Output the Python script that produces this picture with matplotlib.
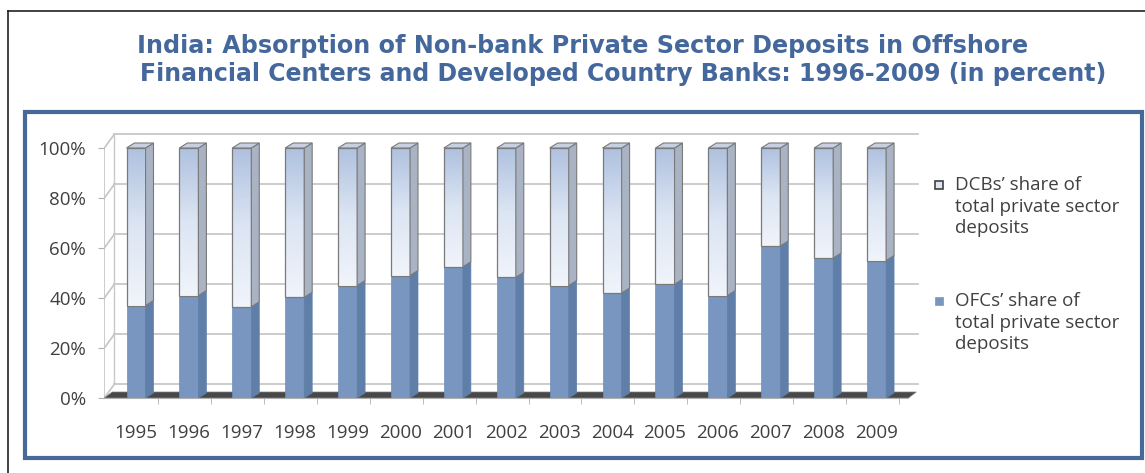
import matplotlib.pyplot as plt
import numpy as np
from matplotlib.patches import Polygon, Rectangle
from matplotlib.lines import Line2D
from matplotlib.colors import LinearSegmentedColormap

years = ['1995', '1996', '1997', '1998', '1999', '2000', '2001', '2002',
         '2003', '2004', '2005', '2006', '2007', '2008', '2009']
# OFCs' share (bottom, dark blue) and DCBs' share (top, light) in percent
ofc_share = [37, 41, 36.5, 40.3, 45, 49, 52.5, 48.3, 45, 42, 45.5, 41, 60.8, 56, 55]
dcb_share = [63, 59, 63.5, 59.7, 55, 51, 47.5, 51.7, 55, 58, 54.5, 59, 39.2, 44, 45]
y_ticks = [0, 20, 40, 60, 80, 100]
y_labels = ['0%', '20%', '40%', '60%', '80%', '100%']
legend_labels = ['DCBs\u2019 share of\ntotal private sector\ndeposits',
                 'OFCs\u2019 share of\ntotal private sector\ndeposits']

W, H = 1145, 473
fig = plt.figure(figsize=(W / 100, H / 100), dpi=100)
fig.patch.set_facecolor('white')

# outer black frame (top and left edges only are visible)
fig.add_artist(Line2D([8 / W, 1], [1 - 11 / H, 1 - 11 / H], color='#222222', lw=1.2, transform=fig.transFigure))
fig.add_artist(Line2D([8 / W, 8 / W], [0, 1 - 11 / H], color='#222222', lw=1.2, transform=fig.transFigure))

# blue box around the chart
fig.add_artist(Rectangle((25 / W, (H - 458) / H), (1142 - 25) / W, (458 - 112) / H, fill=False,
                         ec='#46689A', lw=3, transform=fig.transFigure))

title_col = '#44679C'
fig.text(137 / W, 1 - 46 / H, 'India: Absorption of Non-bank Private Sector Deposits in Offshore',
         ha='left', va='center', fontsize=17.2, fontweight='bold', color=title_col, family='DejaVu Sans')
fig.text(140 / W, 1 - 74 / H, 'Financial Centers and Developed Country Banks: 1996-2009 (in percent)',
         ha='left', va='center', fontsize=17, fontweight='bold', color=title_col, family='DejaVu Sans')

ax = fig.add_axes([104.3 / W, (H - 398) / H, (136 + 52.9 * 14.8 - 104.3) / W, 270 / H])
ax.set_xlim(-0.6, 14.8)
ax.set_ylim(0, 108)
for s in ['top', 'right', 'left']:
    ax.spines[s].set_visible(False)
ax.spines['bottom'].set_bounds(-0.6, 14.6)
ax.spines['bottom'].set_color('#b0b0b0')

grid_col = '#c8c8c8'
wx, wy = 0.19, 5.5   # depth of back wall
n = len(years)

# back wall gridlines and left wall
for v in y_ticks:
    ax.plot([-0.6 + wx, n - 0.4 + wx], [v + wy, v + wy], color=grid_col, lw=1.3, zorder=1)
    ax.plot([-0.6, -0.6 + wx], [v, v + wy], color=grid_col, lw=1.3, zorder=1)
ax.plot([-0.6, -0.6], [0, 100], color=grid_col, lw=1.3, zorder=1)
ax.plot([-0.6 + wx, -0.6 + wx], [wy, 100 + wy], color=grid_col, lw=1.0, zorder=1)

# floor
ax.add_patch(Polygon([(-0.6, 0), (n - 0.4, 0), (n - 0.4 + 0.15, 2.4), (-0.45, 2.4)],
                     closed=True, fc='#484848', ec='#808080', lw=0.5, zorder=2))

w, dx, dy = 0.36, 0.15, 2.0
grad = LinearSegmentedColormap.from_list('dcb', ['#F0F4FB', '#DCE5F3', '#AFC1DF'])
img = np.linspace(0, 1, 200).reshape(-1, 1)
x = np.arange(n)

ax.bar(x, ofc_share, w, color='#7896BF', ec='#6f8db6', lw=0.5, zorder=4)
front = ax.bar(x, dcb_share, w, bottom=ofc_share, color='none', ec='#7a7a7a', lw=0.9, zorder=6)
for i in range(n):
    lo, top = ofc_share[i], ofc_share[i] + dcb_share[i]
    xr = x[i] + w / 2
    xl = x[i] - w / 2
    im = ax.imshow(img, extent=[xl, xr, lo, top], origin='lower', aspect='auto', cmap=grad, zorder=5)
    im.set_clip_path(front[i])
    # side faces
    ax.add_patch(Polygon([(xr, 0), (xr + dx, dy), (xr + dx, lo + dy), (xr, lo)],
                         closed=True, fc='#5f7fa9', ec='#5f7fa9', lw=0.5, zorder=4))
    ax.add_patch(Polygon([(xr, lo), (xr + dx, lo + dy), (xr + dx, top + dy), (xr, top)],
                         closed=True, fc='#a9b3c3', ec='#7a7a7a', lw=0.8, zorder=6))
    # top face
    ax.add_patch(Polygon([(xl, top), (xr, top), (xr + dx, top + dy), (xl + dx, top + dy)],
                         closed=True, fc='#c6d0e1', ec='#7a7a7a', lw=0.8, zorder=6))

ax.set_xlim(-0.6, 14.8)
ax.set_ylim(0, 108)

label_col = '#404040'
ax.set_yticks(y_ticks, y_labels)
ax.tick_params(axis='y', length=4, color='#b0b0b0', pad=9, labelsize=13.5, labelcolor=label_col)
ax.set_xticks(x, years)
ax.set_xticks(x + 0.42, minor=True)
ax.tick_params(axis='x', which='major', length=0, pad=19, labelsize=13.5, labelcolor=label_col)
ax.tick_params(axis='x', which='minor', length=4, color='#b0b0b0')
for lab in ax.get_xticklabels() + ax.get_yticklabels():
    lab.set_family('Open Sans')

# legend
fig.add_artist(Rectangle((935 / W, 1 - 189 / H), 8 / W, 8 / H, fc='#dfe6f2', ec='#404040', lw=1.2,
                         transform=fig.transFigure))
fig.add_artist(Rectangle((935 / W, 1 - 305 / H), 8 / W, 8 / H, fc='#7896BF', ec='#7896BF', lw=0.5,
                         transform=fig.transFigure))
fig.text(955 / W, 1 - 176 / H, legend_labels[0], va='top', ha='left', fontsize=13.5, color=label_col,
         family='Open Sans', linespacing=1.25)
fig.text(955 / W, 1 - 292 / H, legend_labels[1], va='top', ha='left', fontsize=13.5, color=label_col,
         family='Open Sans', linespacing=1.25)

fig.savefig('out.png', dpi=100)
